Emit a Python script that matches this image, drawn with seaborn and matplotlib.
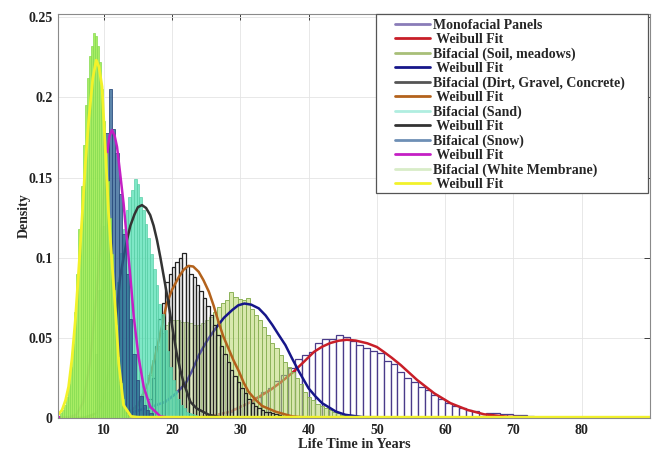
import numpy as np
import pandas as pd
import matplotlib
matplotlib.use("Agg")
import matplotlib.pyplot as plt
import seaborn as sns
from matplotlib.lines import Line2D
from matplotlib.patches import Rectangle

# ---------------- data ----------------
# Histograms: bin start, bin width, bar heights (density)
mono_start, mono_width = 25.0, 1.0
mono_heights = [0.001, 0.002, 0.003, 0.004, 0.006, 0.008, 0.010, 0.013, 0.016, 0.019,
                0.023, 0.027, 0.031, 0.037, 0.0395, 0.041, 0.047, 0.049, 0.0495, 0.0515,
                0.0505, 0.048, 0.0455, 0.0435, 0.042, 0.0406, 0.0355, 0.0335, 0.0289, 0.0247,
                0.0222, 0.0195, 0.0174, 0.0143, 0.0118, 0.0091, 0.0076, 0.006, 0.005, 0.0044,
                0.0015, 0.003, 0.003, 0.0025, 0.0025, 0.002, 0.002, 0.001]

soil_start, soil_width = 14.0, 0.6
soil_heights = [0.004, 0.008, 0.013, 0.019, 0.027, 0.036, 0.045, 0.053, 0.058, 0.060,
                0.061, 0.061, 0.060, 0.060, 0.059, 0.058, 0.058, 0.059, 0.061, 0.063,
                0.066, 0.069, 0.072, 0.0735, 0.0787, 0.0755, 0.074, 0.0736, 0.075, 0.068,
                0.064, 0.061, 0.057, 0.052, 0.047, 0.0434, 0.039, 0.035, 0.032, 0.029,
                0.025, 0.021, 0.0165, 0.0133, 0.011, 0.0087, 0.0075, 0.006, 0.005, 0.004,
                0.003, 0.002, 0.0015, 0.001]

dirt_start, dirt_width = 16.0, 0.5
dirt_heights = [0.005, 0.012, 0.025, 0.045, 0.062, 0.072, 0.085, 0.090, 0.094, 0.097,
                0.100, 0.1027, 0.095, 0.090, 0.088, 0.083, 0.079, 0.075, 0.070, 0.064,
                0.058, 0.052, 0.045, 0.040, 0.035, 0.030, 0.026, 0.0226, 0.019, 0.0154,
                0.012, 0.0092, 0.0072, 0.006, 0.005, 0.004, 0.0035, 0.003, 0.0025, 0.002,
                0.0015, 0.001, 0.0008, 0.0005]

sand_start, sand_width = 9.6, 0.4
sand_heights = [0.003, 0.008, 0.016, 0.028, 0.045, 0.065, 0.085, 0.103, 0.118, 0.130,
                0.138, 0.142, 0.149, 0.146, 0.138, 0.130, 0.121, 0.112, 0.102, 0.093,
                0.083, 0.071, 0.065, 0.055, 0.042, 0.032, 0.024, 0.017, 0.012, 0.008,
                0.006, 0.004, 0.003, 0.0025, 0.002, 0.0015, 0.001, 0.001, 0.0008, 0.0005]

snow_start, snow_width = 8.7, 0.5
snow_heights = [0.04, 0.08, 0.12, 0.178, 0.205, 0.180, 0.165, 0.140, 0.115, 0.090,
                0.062, 0.040, 0.024, 0.014, 0.008, 0.005, 0.003, 0.0015, 0.001]

memb_start, memb_width = 3.6, 0.3
memb_heights = [0.003, 0.005, 0.008, 0.013, 0.021, 0.032, 0.046, 0.066, 0.090, 0.118,
                0.145, 0.170, 0.195, 0.212, 0.226, 0.232, 0.240, 0.238, 0.232, 0.222,
                0.205, 0.185, 0.165, 0.148, 0.125, 0.102, 0.080, 0.058, 0.038, 0.022,
                0.012, 0.006, 0.003, 0.0015, 0.0008]

# Weibull fit curves (years, density)
red_x = [3.3, 20, 24, 26, 28.6, 31.3, 34.4, 36, 37.7, 39.3, 40.8, 42, 43.2, 44.4, 45.6,
         46.9, 48.6, 50, 51.0, 52.2, 53.5, 55.9, 58.4, 60.8, 63.3, 65.7, 69.1, 73, 78, 90]
red_y = [0, 0, 0.0005, 0.0015, 0.004, 0.0095, 0.0175, 0.0225, 0.0285, 0.035, 0.0413,
         0.0445, 0.0468, 0.0482, 0.0488, 0.0483, 0.0466, 0.0443, 0.0413, 0.0375, 0.033,
         0.0237, 0.0154, 0.0092, 0.005, 0.0023, 0.0008, 0.0002, 0, 0]

blue_x = [3.3, 12, 14.5, 17, 19, 20.5, 22.0, 23.0, 23.9, 25.1, 26.4, 27.6, 28.8, 29.7,
          30.6, 31.6, 32.7, 33.7, 34.7, 35.6, 36.6, 37.6, 38.6, 40.0, 41.0, 42.0, 44.0,
          45.4, 48, 90]
blue_y = [0, 0, 0.004, 0.007, 0.010, 0.015, 0.0216, 0.030, 0.039, 0.048, 0.056, 0.0625,
          0.0673, 0.0703, 0.0714, 0.0707, 0.0684, 0.0640, 0.058, 0.052, 0.0455, 0.037,
          0.0289, 0.0185, 0.0135, 0.0092, 0.004, 0.002, 0.0005, 0]

brown_x = [3.3, 11, 13, 15, 16.5, 17.5, 18.5, 19.2, 20.0, 21.0, 21.7, 22.4, 23.1, 23.9,
           24.6, 25.4, 26.1, 26.8, 27.5, 28.3, 29.0, 29.8, 30.5, 31.2, 32.2, 33.2, 35.2,
           37.6, 40, 90]
brown_y = [0, 0, 0.001, 0.008, 0.022, 0.038, 0.057, 0.071, 0.080, 0.088, 0.0925, 0.0949,
           0.0945, 0.0912, 0.086, 0.0787, 0.070, 0.060, 0.051, 0.043, 0.036, 0.029, 0.022,
           0.0164, 0.0115, 0.0075, 0.0039, 0.001, 0.0002, 0]

gray_x = [3.3, 7, 9, 10, 11, 11.95, 12.4, 12.9, 13.4, 13.9, 14.5, 15.0, 15.6, 16.2, 16.8,
          17.3, 17.8, 18.3, 18.8, 19.3, 19.8, 20.3, 20.7, 21.2, 21.7, 22.7, 23.6, 25.4, 27, 90]
gray_y = [0, 0, 0.003, 0.012, 0.035, 0.068, 0.088, 0.100, 0.111, 0.120, 0.127, 0.1315,
          0.1328, 0.1310, 0.1266, 0.120, 0.111, 0.100, 0.088, 0.076, 0.063, 0.050, 0.040,
          0.030, 0.022, 0.010, 0.006, 0.002, 0.0005, 0]

mag_x = [3.3, 5, 6, 7, 8, 9, 9.5, 10, 10.5, 10.85, 11.2, 11.6, 11.95, 12.4, 12.9, 13.4,
         13.9, 14.4, 15.1, 15.85, 16.8, 18.3, 20, 90]
mag_y = [0.0005, 0.0005, 0.002, 0.01, 0.035, 0.08, 0.11, 0.14, 0.165, 0.176, 0.1796,
         0.176, 0.169, 0.1526, 0.134, 0.111, 0.088, 0.063, 0.038, 0.0195, 0.007, 0.001, 0, 0]

yel_x = [3.3, 3.9, 4.4, 4.85, 5.35, 5.84, 6.3, 6.8, 7.3, 7.8, 8.4, 8.9, 9.3, 9.75, 10.2,
         10.7, 11.2, 11.7, 12.2, 12.9, 14.0, 15, 90]
yel_y = [0.002, 0.005, 0.011, 0.0195, 0.037, 0.061, 0.090, 0.1234, 0.158, 0.186, 0.212,
         0.2232, 0.219, 0.2066, 0.170, 0.128, 0.097, 0.068, 0.034, 0.008, 0.001, 0.0005, 0.0005]

legend_labels = ["Monofacial Panels", " Weibull Fit", "Bifacial (Soil, meadows)", " Weibull Fit",
                 "Bifacial (Dirt, Gravel, Concrete)", " Weibull Fit", "Bifacial (Sand)", " Weibull Fit",
                 "Bifaical (Snow)", " Weibull Fit", "Bifacial (White Membrane)", " Weibull Fit"]

x_ticks = [10, 20, 30, 40, 50, 60, 70, 80]
y_ticks = [0, 0.05, 0.1, 0.15, 0.2, 0.25]
y_tick_labels = ["0", "0.05", "0.1", "0.15", "0.2", "0.25"]

# ---------------- plotting ----------------
sns.set_theme(style="whitegrid")
plt.rcParams['font.family'] = ['Liberation Serif', 'DejaVu Serif']
plt.rcParams['font.weight'] = 'bold'

W, H = 654, 450
fig = plt.figure(figsize=(W / 100, H / 100), dpi=100)
ax = fig.add_axes([58 / W, (H - 418) / H, (650 - 58) / W, (418 - 14) / H])
ax.set_facecolor("white")


def hist(start, width, heights, face, edge, lw):
    n = len(heights)
    df = pd.DataFrame({"x": start + width * (np.arange(n) + 0.5),
                       "w": np.asarray(heights, dtype=float)})
    sns.histplot(data=df, x="x", weights="w", binwidth=width,
                 binrange=(start, start + n * width), stat="count", ax=ax,
                 facecolor=face, edgecolor=edge, linewidth=lw, zorder=2)


def curve(xs, ys, color, lw=1.8):
    sns.lineplot(x=xs, y=ys, color=color, linewidth=lw, ax=ax, zorder=2)


hist(mono_start, mono_width, mono_heights, (1, 1, 1, 0.6), "#4a3b8a", 0.9)
curve(red_x, red_y, "#c81e28")
hist(soil_start, soil_width, soil_heights, (0.72, 0.84, 0.42, 0.55), "#8db35a", 0.7)
curve(blue_x, blue_y, "#16168a")
hist(dirt_start, dirt_width, dirt_heights, (0.96, 0.96, 0.96, 0.3), "#222222", 0.9)
curve(brown_x, brown_y, "#b3621c")
hist(sand_start, sand_width, sand_heights, (0.30, 0.87, 0.69, 0.72), "#5ccfa8", 0.5)
curve(gray_x, gray_y, "#333333")
hist(snow_start, snow_width, snow_heights, (0.15, 0.36, 0.56, 0.75), "#2e4f80", 0.6)
curve(mag_x, mag_y, "#c41fc4")
hist(memb_start, memb_width, memb_heights, (0.64, 0.93, 0.36, 0.95), "#86dc50", 0.5)
curve(yel_x, yel_y, "#f2f22a", 2.0)

ax.set_xlim(3.3, 90)
ax.set_ylim(0, 0.252)
ax.set_xticks(x_ticks)
ax.set_xticklabels([str(t) for t in x_ticks])
ax.set_yticks(y_ticks)
ax.set_yticklabels(y_tick_labels)
ax.set_xlabel("Life Time in Years", fontsize=10.3, fontweight="bold", labelpad=1)
ax.set_ylabel("Density", fontsize=10, fontweight="bold", labelpad=-2)
ax.tick_params(axis="both", labelsize=10, direction="in", length=4, width=0.6,
               colors="#222222", top=True, right=True, pad=4)
for lbl in ax.get_xticklabels() + ax.get_yticklabels():
    lbl.set_fontweight("bold")
ax.grid(True, color="#e4e4e4", linewidth=0.6)
ax.set_axisbelow(True)
for sp in ax.spines.values():
    sp.set_visible(True)
    sp.set_color("#8a8a8a")
    sp.set_linewidth(0.8)

# legend frame (white box with dark edge)
frame = Rectangle((376 / W, (H - 193) / H), (648 - 376) / W, (193 - 14) / H,
                  transform=fig.transFigure, facecolor="white", edgecolor="#555555",
                  linewidth=0.9, zorder=5, clip_on=False)
ax.add_patch(frame)

legend_colors = ["#8a7cb8", "#c81e28", "#a8bf78", "#16168a", "#555555", "#b3621c",
                 "#b0eee0", "#333333", "#6e8fb5", "#c41fc4", "#d8ecc8", "#f2f22a"]
handles = [Line2D([0], [0], color=c, lw=2) for c in legend_colors]
leg = ax.legend(handles, legend_labels, loc="upper left",
                bbox_to_anchor=(395 / W, (H - 19) / H), bbox_transform=fig.transFigure,
                borderaxespad=0, borderpad=0, frameon=False,
                handlelength=2.5, labelspacing=0.09, handletextpad=0.25,
                prop={"family": ["Liberation Serif"], "weight": "bold", "size": 10})
leg.set_zorder(6)

fig.savefig("out.png", dpi=100)
